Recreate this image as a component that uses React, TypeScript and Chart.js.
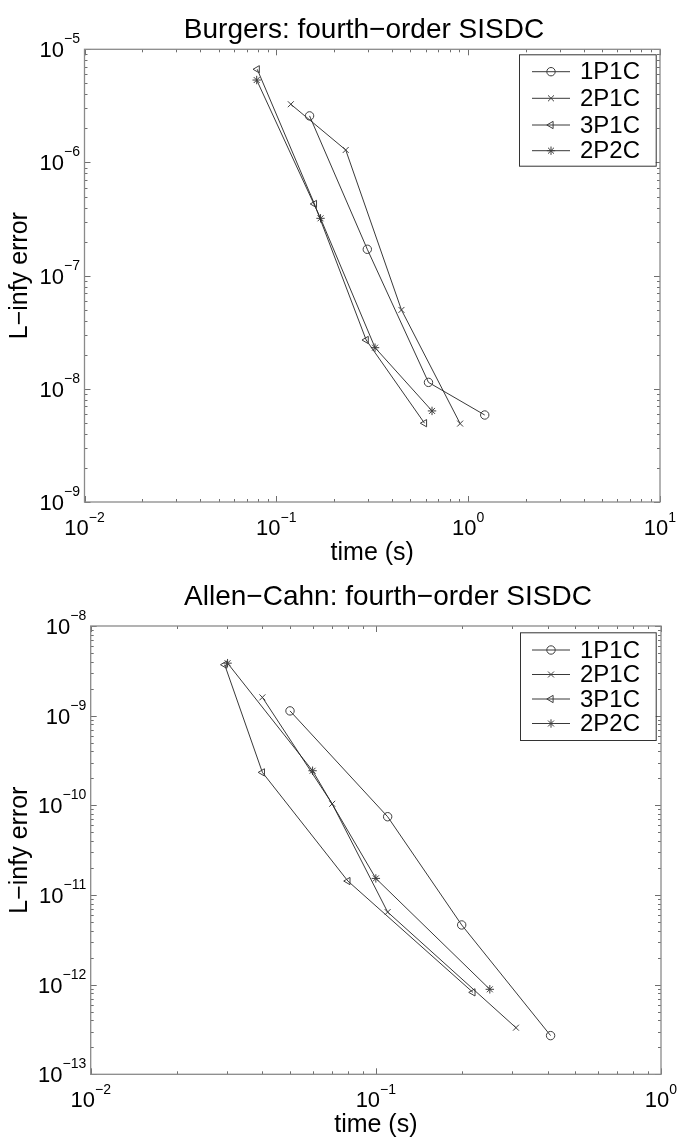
import React, { useEffect, useRef } from "react";
import { Chart, registerables } from "chart.js";
import { drawPoint } from "chart.js/helpers";

Chart.register(...registerables);

// ---------- data ----------
const seriesNames = ["1P1C", "2P1C", "3P1C", "2P2C"];
const markerStyles = ["circle", "crossRot", "triangle", "star"];
const markerRotations = [0, 0, -90, 0];

// Burgers: fourth-order SISDC
const burgersTime1P1C = [0.149, 0.298, 0.621, 1.22];
const burgersErr1P1C = [2.58e-6, 1.71e-7, 1.14e-8, 5.87e-9];
const burgersTime2P1C = [0.119, 0.23, 0.449, 0.908];
const burgersErr2P1C = [3.27e-6, 1.29e-6, 4.98e-8, 4.93e-9];
const burgersTime3P1C = [0.0795, 0.158, 0.294, 0.592];
const burgersErr3P1C = [6.66e-6, 4.3e-7, 2.7e-8, 4.97e-9];
const burgersTime2P2C = [0.079, 0.17, 0.327, 0.648];
const burgersErr2P2C = [5.35e-6, 3.21e-7, 2.31e-8, 6.38e-9];

// Allen-Cahn: fourth-order SISDC
const acTime1P1C = [0.05, 0.11, 0.2, 0.41];
const acErr1P1C = [1.13e-9, 7.46e-11, 4.63e-12, 2.7e-13];
const acTime2P1C = [0.04, 0.0703, 0.11, 0.31];
const acErr2P1C = [1.6e-9, 1.04e-10, 6.45e-12, 3.31e-13];
const acTime3P1C = [0.0295, 0.04, 0.0798, 0.219];
const acErr3P1C = [3.7e-9, 2.33e-10, 1.43e-11, 8.2e-13];
const acTime2P2C = [0.0302, 0.06, 0.1, 0.251];
const acErr2P2C = [3.85e-9, 2.43e-10, 1.53e-11, 8.87e-13];

// tick exponents (labels are 10^e)
const burgersXExps = [-2, -1, 0, 1];
const burgersYExps = [-9, -8, -7, -6, -5];
const acXExps = [-2, -1, 0];
const acYExps = [-13, -12, -11, -10, -9, -8];

const titles = ["Burgers: fourth\u2212order SISDC", "Allen\u2212Cahn: fourth\u2212order SISDC"];
const xLabel = "time (s)";
const yLabel = "L\u2212infy error";

// ---------- styling ----------
const FONT = '"Liberation Sans", Arial, Helvetica, sans-serif';
const LINE_COLOR = "#222222";
const MARK_COLOR = "#3d3d3d";
const AXIS_COLOR = "#8a8a8a";
const TICK_COLOR = "#6e6e6e";

function zip(ts: number[], es: number[]) {
  return ts.map((t, i) => ({ x: t, y: es[i] }));
}

function makeDatasets(times: number[][], errs: number[][]) {
  return seriesNames.map((name, i) => ({
    label: name,
    data: zip(times[i], errs[i]),
    showLine: true,
    borderColor: LINE_COLOR,
    borderWidth: 0.9,
    pointStyle: markerStyles[i] as any,
    rotation: markerRotations[i],
    pointRotation: markerRotations[i],
    pointRadius: 4.2,
    pointBorderWidth: 1,
    pointBorderColor: MARK_COLOR,
    pointBackgroundColor: "rgba(0,0,0,0)",
    tension: 0,
  }));
}

const framePlugin = {
  id: "matlabFrame",
  afterDatasetsDraw(chart: any, _args: any, opts: any) {
    const { ctx, chartArea: a } = chart;
    const xs = chart.scales.x;
    const ys = chart.scales.y;
    ctx.save();
    const line = (x0: number, y0: number, x1: number, y1: number) => {
      ctx.beginPath();
      ctx.moveTo(x0, y0);
      ctx.lineTo(x1, y1);
      ctx.stroke();
    };
    ctx.strokeStyle = TICK_COLOR;
    ctx.lineWidth = 1;
    const majorLen = 6;
    const minorLen = 3;
    const xE: number[] = opts.xExps;
    const yE: number[] = opts.yExps;
    xE.forEach((e: number, idx: number) => {
      for (let k = 1; k <= 9; k++) {
        if (k > 1 && idx === xE.length - 1) break;
        const v = k * Math.pow(10, e);
        const px = Math.round(xs.getPixelForValue(v)) + 0.5;
        const len = k === 1 ? majorLen : minorLen;
        line(px, a.bottom, px, a.bottom - len);
        line(px, a.top, px, a.top + len);
      }
    });
    yE.forEach((e: number, idx: number) => {
      for (let k = 1; k <= 9; k++) {
        if (k > 1 && idx === yE.length - 1) break;
        const v = k * Math.pow(10, e);
        const py = Math.round(ys.getPixelForValue(v)) + 0.5;
        const len = k === 1 ? majorLen : minorLen;
        line(a.left, py, a.left + len, py);
        line(a.right, py, a.right - len, py);
      }
    });
    ctx.strokeStyle = AXIS_COLOR;
    ctx.lineWidth = 1.3;
    ctx.strokeRect(a.left, a.top, a.right - a.left, a.bottom - a.top);
    ctx.restore();
  },
  afterDraw(chart: any, _args: any, opts: any) {
    const { ctx, chartArea: a } = chart;
    const xs = chart.scales.x;
    const ys = chart.scales.y;
    ctx.save();
    ctx.fillStyle = "#000";
    const baseFont = `22px ${FONT}`;
    const expFont = `14px ${FONT}`;
    (opts.yExps as number[]).forEach((e) => {
      const py = ys.getPixelForValue(Math.pow(10, e));
      const expStr = e < 0 ? "\u2212" + Math.abs(e) : String(e);
      ctx.font = expFont;
      const we = ctx.measureText(expStr).width;
      ctx.font = baseFont;
      const wb = ctx.measureText("10").width;
      const right = a.left - 4.5;
      ctx.textAlign = "left";
      ctx.textBaseline = "alphabetic";
      ctx.fillText("10", right - we - wb, py + 8);
      ctx.font = expFont;
      ctx.fillText(expStr, right - we, py - 6);
    });
    (opts.xExps as number[]).forEach((e) => {
      const px = xs.getPixelForValue(Math.pow(10, e));
      const expStr = e < 0 ? "\u2212" + Math.abs(e) : String(e);
      ctx.font = expFont;
      const we = ctx.measureText(expStr).width;
      ctx.font = baseFont;
      const wb = ctx.measureText("10").width;
      const left = px - (we + wb) / 2;
      ctx.textAlign = "left";
      ctx.textBaseline = "alphabetic";
      ctx.fillText("10", left, a.bottom + 33);
      ctx.font = expFont;
      ctx.fillText(expStr, left + wb, a.bottom + 20);
    });
    ctx.font = `28px ${FONT}`;
    ctx.textAlign = "center";
    ctx.textBaseline = "alphabetic";
    ctx.fillText(opts.title, opts.titleX, opts.titleBaseline);
    ctx.font = `25px ${FONT}`;
    ctx.textBaseline = "middle";
    ctx.fillText(xLabel, (a.left + a.right) / 2, opts.xLabelY);
    ctx.save();
    ctx.translate(opts.yLabelX, (a.top + a.bottom) / 2);
    ctx.rotate(-Math.PI / 2);
    ctx.textBaseline = "alphabetic";
    ctx.fillText(yLabel, 0, 0);
    ctx.restore();
    const L = opts.legend;
    ctx.fillStyle = "#fff";
    ctx.fillRect(L.left, L.top, L.right - L.left, L.bottom - L.top);
    ctx.strokeStyle = "#333";
    ctx.lineWidth = 1;
    ctx.strokeRect(L.left + 0.5, L.top + 0.5, L.right - L.left, L.bottom - L.top);
    chart.data.datasets.forEach((ds: any, i: number) => {
      const ry = L.rows[i];
      ctx.strokeStyle = LINE_COLOR;
      ctx.lineWidth = 0.9;
      ctx.beginPath();
      ctx.moveTo(L.lineX0, ry);
      ctx.lineTo(L.lineX1, ry);
      ctx.stroke();
      ctx.strokeStyle = MARK_COLOR;
      ctx.fillStyle = "rgba(0,0,0,0)";
      ctx.lineWidth = 1;
      drawPoint(
        ctx,
        { pointStyle: ds.pointStyle, rotation: ds.pointRotation, radius: 4.2, borderWidth: 1 } as any,
        (L.lineX0 + L.lineX1) / 2,
        ry
      );
      ctx.fillStyle = "#000";
      ctx.font = `24px ${FONT}`;
      ctx.textAlign = "left";
      ctx.textBaseline = "middle";
      ctx.fillText(ds.label, L.textX, ry + 1);
    });
    ctx.restore();
  },
};

type PlotCfg = {
  top: number;
  height: number;
  datasets: any[];
  xMin: number;
  xMax: number;
  yMin: number;
  yMax: number;
  padding: { left: number; right: number; top: number; bottom: number };
  frame: any;
};

function Plot({ cfg }: { cfg: PlotCfg }) {
  const ref = useRef<HTMLCanvasElement | null>(null);
  useEffect(() => {
    if (!ref.current) return;
    const chart = new Chart(ref.current, {
      type: "scatter",
      data: { datasets: cfg.datasets },
      options: {
        responsive: false,
        animation: false,
        devicePixelRatio: 1,
        layout: { padding: cfg.padding },
        scales: {
          x: { type: "logarithmic", display: false, min: cfg.xMin, max: cfg.xMax },
          y: { type: "logarithmic", display: false, min: cfg.yMin, max: cfg.yMax },
        },
        plugins: {
          legend: { display: false },
          title: { display: false },
          tooltip: { enabled: false },
          matlabFrame: cfg.frame,
        } as any,
      },
      plugins: [framePlugin],
    });
    return () => chart.destroy();
  }, []);
  return (
    <canvas
      ref={ref}
      width={677}
      height={cfg.height}
      style={{ position: "absolute", left: 0, top: cfg.top, width: 677, height: cfg.height }}
    />
  );
}

const topCfg: PlotCfg = {
  top: 0,
  height: 569,
  datasets: makeDatasets(
    [burgersTime1P1C, burgersTime2P1C, burgersTime3P1C, burgersTime2P2C],
    [burgersErr1P1C, burgersErr2P1C, burgersErr3P1C, burgersErr2P2C]
  ),
  xMin: 1e-2,
  xMax: 1e1,
  yMin: 1e-9,
  yMax: 1e-5,
  padding: { left: 84.5, right: 17, top: 49.3, bottom: 67 },
  frame: {
    xExps: burgersXExps,
    yExps: burgersYExps,
    title: titles[0],
    titleX: 364,
    titleBaseline: 38,
    xLabelY: 553,
    yLabelX: 27,
    legend: {
      left: 519,
      right: 655.7,
      top: 54.3,
      bottom: 165.7,
      rows: [71.7, 98.3, 125, 150.7],
      lineX0: 532,
      lineX1: 570,
      textX: 580,
    },
  },
};

const bottomCfg: PlotCfg = {
  top: 569,
  height: 569,
  datasets: makeDatasets(
    [acTime1P1C, acTime2P1C, acTime3P1C, acTime2P2C],
    [acErr1P1C, acErr2P1C, acErr3P1C, acErr2P2C]
  ),
  xMin: 1e-2,
  xMax: 1e0,
  yMin: 1e-13,
  yMax: 1e-8,
  padding: { left: 90.7, right: 16, top: 57, bottom: 63.7 },
  frame: {
    xExps: acXExps,
    yExps: acYExps,
    title: titles[1],
    titleX: 388,
    titleBaseline: 36,
    xLabelY: 556,
    yLabelX: 27,
    legend: {
      left: 520,
      right: 655.7,
      top: 63.3,
      bottom: 171,
      rows: [81, 105.5, 130, 154.5],
      lineX0: 532,
      lineX1: 570,
      textX: 580,
    },
  },
};

export default function App() {
  return (
    <div style={{ position: "absolute", left: 0, top: 0, width: 677, height: 1138, background: "#fff" }}>
      <Plot cfg={topCfg} />
      <Plot cfg={bottomCfg} />
    </div>
  );
}
